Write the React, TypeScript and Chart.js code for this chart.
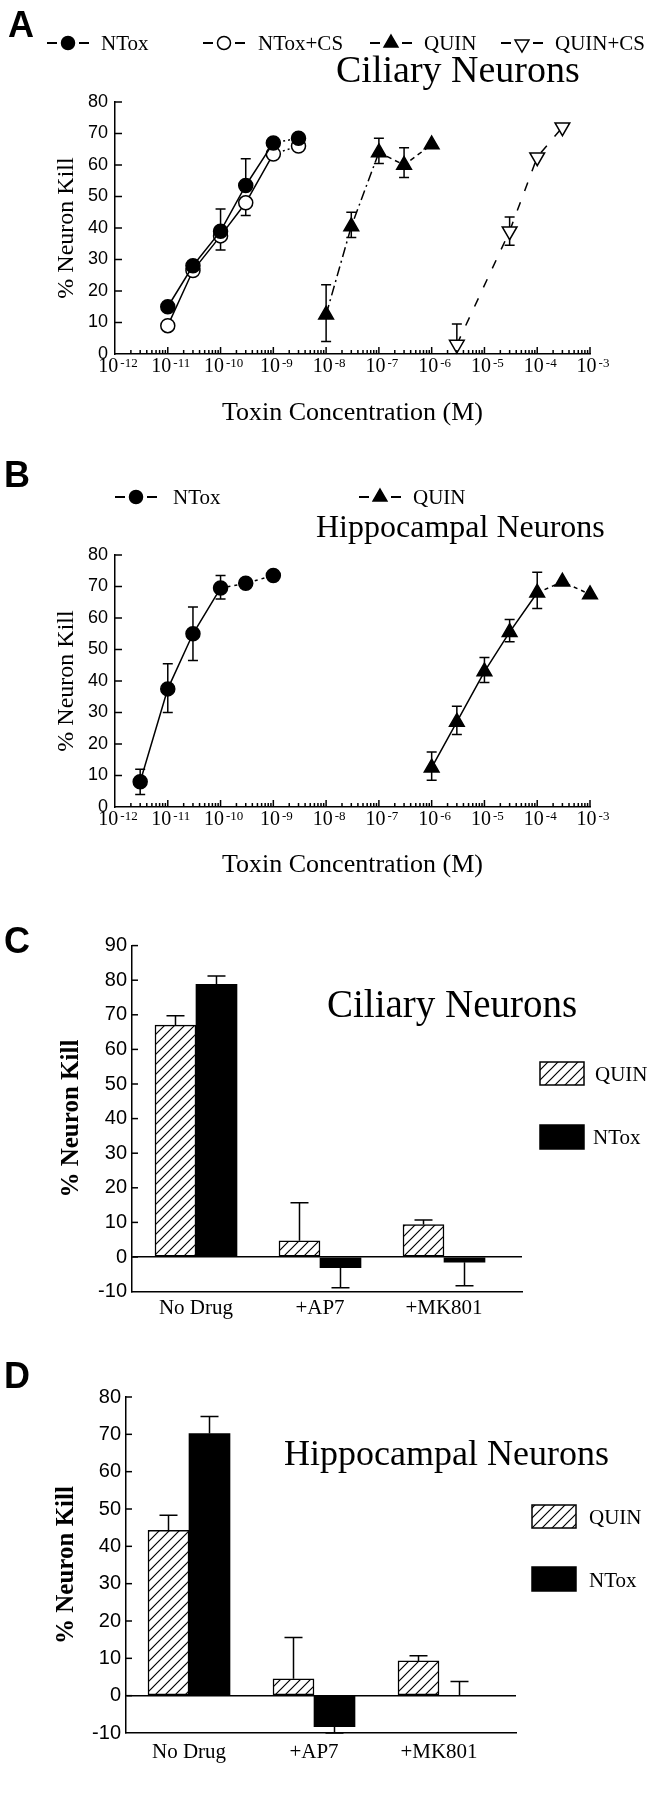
import React, { useEffect, useRef } from 'react';
import { Chart, registerables } from 'chart.js';

Chart.register(...registerables);

const SERIF = "'Liberation Serif', 'Times New Roman', Times, serif";
const SANS = "'Liberation Sans', Arial, Helvetica, sans-serif";
const BLACK = '#000000';
const WHITE = '#ffffff';

// ---------------- Panel A : Ciliary neurons (dose response) ----------------
const A_NTOX_X = [1e-11, 3e-11, 1e-10, 3e-10, 1e-9, 3e-9];
const A_NTOX_Y = [15, 28, 39, 53.5, 67, 68.5];
const A_NTOX_HI = [null, null, 46, 62, null, null];
const A_NTOX_LO = [null, null, null, null, null, null];

const A_NTOXCS_X = [1e-11, 3e-11, 1e-10, 3e-10, 1e-9, 3e-9];
const A_NTOXCS_Y = [9, 26.5, 37.5, 48, 63.5, 66];
const A_NTOXCS_HI = [null, null, null, null, null, null];
const A_NTOXCS_LO = [null, null, 33, 44, null, null];

const A_QUIN_X = [1e-8, 3e-8, 1e-7, 3e-7, 1e-6];
const A_QUIN_Y = [12.5, 40.5, 64, 60, 66.5];
const A_QUIN_HI = [22, 45, 68.5, 65.5, null];
const A_QUIN_LO = [4, 37, 60.5, 56, null];

const A_QUINCS_X = [3e-6, 3e-5, 1e-4, 3e-4];
const A_QUINCS_Y = [3, 39, 62.5, 72];
const A_QUINCS_HI = [9.5, 43.5, null, null];
const A_QUINCS_LO = [null, 34.5, null, null];

// ---------------- Panel B : Hippocampal neurons (dose response) ----------------
const B_NTOX_X = [3e-12, 1e-11, 3e-11, 1e-10, 3e-10, 1e-9];
const B_NTOX_Y = [8, 37.5, 55, 69.5, 71, 73.5];
const B_NTOX_HI = [12, 45.5, 63.5, 73.5, null, null];
const B_NTOX_LO = [4, 30, 46.5, 66, null, null];

const B_QUIN_X = [1e-6, 3e-6, 1e-5, 3e-5, 1e-4, 3e-4, 1e-3];
const B_QUIN_Y = [12.5, 27, 43, 55.5, 68, 71.5, 67.5];
const B_QUIN_HI = [17.5, 32, 47.5, 59.5, 74.5, null, null];
const B_QUIN_LO = [8.5, 23, 39.5, 52.5, 63, null, null];

// ---------------- Panels C / D : antagonists ----------------
const BAR_CATEGORIES = ['No Drug', '+AP7', '+MK801'];

const C_QUIN = [67, 4.7, 9.4];
const C_QUIN_ERR = [69.7, 15.7, 10.7];
const C_NTOX = [78.8, -3.1, -1.5];
const C_NTOX_ERR = [81.2, -8.9, -8.3];

const D_QUIN = [44.3, 4.5, 9.3];
const D_QUIN_ERR = [48.3, 15.6, 10.7];
const D_NTOX = [70.2, -8.3, 0];
const D_NTOX_ERR = [74.8, -10, 3.8];

// ---------------- ticks / labels ----------------
const X_EXPONENTS = [-12, -11, -10, -9, -8, -7, -6, -5, -4, -3];
const AB_Y_TICKS = [0, 10, 20, 30, 40, 50, 60, 70, 80];
const C_Y_TICKS = [-10, 0, 10, 20, 30, 40, 50, 60, 70, 80, 90];
const D_Y_TICKS = [-10, 0, 10, 20, 30, 40, 50, 60, 70, 80];
const Y_TITLE = '% Neuron Kill';
const X_TITLE = 'Toxin Concentration (M)';

type Marker = 'circle' | 'triangle' | 'invtriangle';
type Txt = { text: string; x: number; y: number; size: number; family: string; weight?: string; baseline?: CanvasTextBaseline };
type Sym = { cx: number; y: number; marker: Marker; filled: boolean };
type Box = { x: number; y: number; w: number; h: number; hatch: boolean };

function drawMarker(ctx: CanvasRenderingContext2D, kind: Marker, x: number, y: number, r: number, filled: boolean) {
  ctx.beginPath();
  if (kind === 'circle') {
    ctx.arc(x, y, r, 0, Math.PI * 2);
  } else {
    const rot = kind === 'invtriangle' ? Math.PI : 0;
    for (let k = 0; k < 3; k++) {
      const a = rot + (k * 2 * Math.PI) / 3;
      const px = x + Math.sin(a) * r;
      const py = y - Math.cos(a) * r;
      if (k === 0) ctx.moveTo(px, py);
      else ctx.lineTo(px, py);
    }
    ctx.closePath();
  }
  ctx.fillStyle = filled ? BLACK : WHITE;
  ctx.fill();
  ctx.lineWidth = 1.5;
  ctx.strokeStyle = BLACK;
  ctx.stroke();
}

function drawErrors(chart: any, cap: number) {
  const ctx: CanvasRenderingContext2D = chart.ctx;
  const ys = chart.scales.y;
  ctx.save();
  ctx.strokeStyle = BLACK;
  ctx.lineWidth = 1.5;
  ctx.setLineDash([]);
  chart.data.datasets.forEach((ds: any, i: number) => {
    const meta = chart.getDatasetMeta(i);
    const arrays = [ds.errHi, ds.errLo, ds.errEnd];
    meta.data.forEach((el: any, j: number) => {
      arrays.forEach((arr: any) => {
        const v = arr ? arr[j] : null;
        if (v === null || v === undefined) return;
        const yy = ys.getPixelForValue(v);
        ctx.beginPath();
        ctx.moveTo(el.x, el.y);
        ctx.lineTo(el.x, yy);
        ctx.moveTo(el.x - cap / 2, yy);
        ctx.lineTo(el.x + cap / 2, yy);
        ctx.stroke();
      });
    });
  });
  ctx.restore();
}

function makeDecor(cfg: {
  id: string;
  texts: Txt[];
  syms?: Sym[];
  boxes?: Box[];
  logAxis?: boolean;
  yTickLen: number;
  cap: number;
  bars?: boolean;
  hatch?: CanvasPattern | null;
}) {
  return {
    id: cfg.id,
    beforeDatasetsDraw(chart: any) {
      if (!cfg.bars) drawErrors(chart, cfg.cap);
    },
    afterDatasetsDraw(chart: any) {
      if (cfg.bars) drawErrors(chart, cfg.cap);
    },
    afterDraw(chart: any) {
      const ctx: CanvasRenderingContext2D = chart.ctx;
      const area = chart.chartArea;
      ctx.save();
      ctx.strokeStyle = BLACK;
      ctx.fillStyle = BLACK;
      ctx.lineWidth = 1.5;
      ctx.setLineDash([]);
      if (cfg.logAxis) {
        const xs = chart.scales.x;
        // inner minor / major ticks
        for (let e = -12; e < -3; e++) {
          for (let m = 2; m <= 10; m++) {
            const px = xs.getPixelForValue(m * Math.pow(10, e));
            const len = m === 10 ? 7 : 4;
            ctx.beginPath();
            ctx.moveTo(px, area.bottom);
            ctx.lineTo(px, area.bottom - len);
            ctx.stroke();
          }
        }
        // decade labels: "10" with raised exponent
        X_EXPONENTS.forEach((e) => {
          const px = xs.getPixelForValue(Math.pow(10, e));
          const base = '10';
          const sup = String(e);
          ctx.textBaseline = 'alphabetic';
          ctx.textAlign = 'left';
          ctx.font = `normal 20px ${SERIF}`;
          const wb = ctx.measureText(base).width;
          ctx.font = `normal 13px ${SERIF}`;
          const ws = ctx.measureText(sup).width;
          const total = wb + 2 + ws;
          const x0 = px - total / 2 + 3;
          const yb = area.bottom + 18;
          ctx.font = `normal 20px ${SERIF}`;
          ctx.fillText(base, x0, yb);
          ctx.font = `normal 13px ${SERIF}`;
          ctx.fillText(sup, x0 + wb + 2, yb - 5);
        });
      }
      // inner y ticks
      const ys = chart.scales.y;
      ys.ticks.forEach((t: any) => {
        const py = ys.getPixelForValue(t.value);
        if (Math.abs(py - area.bottom) < 1) return;
        ctx.beginPath();
        ctx.moveTo(area.left, py);
        ctx.lineTo(area.left + cfg.yTickLen, py);
        ctx.stroke();
      });
      // legend symbols: short dash, marker, short dash
      (cfg.syms || []).forEach((s) => {
        ctx.lineWidth = 1.8;
        ctx.beginPath();
        ctx.moveTo(s.cx - 21, s.y);
        ctx.lineTo(s.cx - 11, s.y);
        ctx.moveTo(s.cx + 11, s.y);
        ctx.lineTo(s.cx + 21, s.y);
        ctx.stroke();
        drawMarker(ctx, s.marker, s.cx, s.marker === 'invtriangle' ? s.y + 1 : s.y, s.marker === 'circle' ? 6.5 : 8, s.filled);
      });
      // legend boxes
      (cfg.boxes || []).forEach((b) => {
        ctx.fillStyle = b.hatch && cfg.hatch ? cfg.hatch : BLACK;
        ctx.fillRect(b.x, b.y, b.w, b.h);
        ctx.lineWidth = 1.5;
        ctx.strokeRect(b.x, b.y, b.w, b.h);
      });
      // texts
      cfg.texts.forEach((t) => {
        ctx.font = `${t.weight || 'normal'} ${t.size}px ${t.family}`;
        ctx.fillStyle = BLACK;
        ctx.textAlign = 'left';
        ctx.textBaseline = t.baseline || 'alphabetic';
        ctx.fillText(t.text, t.x, t.y);
      });
      ctx.restore();
    },
  };
}

function makeHatch(): CanvasPattern | null {
  const c = document.createElement('canvas');
  c.width = 10;
  c.height = 10;
  const g = c.getContext('2d');
  if (!g) return null;
  g.fillStyle = WHITE;
  g.fillRect(0, 0, 10, 10);
  g.strokeStyle = BLACK;
  g.lineWidth = 1.2;
  g.beginPath();
  g.moveTo(-1, 11);
  g.lineTo(11, -1);
  g.moveTo(-1, 1);
  g.lineTo(1, -1);
  g.moveTo(9, 11);
  g.lineTo(11, 9);
  g.stroke();
  return g.createPattern(c, 'repeat');
}

function lineSet(
  label: string, xs: number[], ys: number[], hi: (number | null)[], lo: (number | null)[],
  marker: Marker, filled: boolean, dash: number[], segFrom: number, segDash: number[],
) {
  return {
    label,
    data: xs.map((x, i) => ({ x, y: ys[i] })),
    errHi: hi,
    errLo: lo,
    clip: false,
    borderColor: BLACK,
    borderWidth: 1.5,
    borderDash: dash,
    pointStyle: marker === 'circle' ? 'circle' : 'triangle',
    pointRotation: marker === 'invtriangle' ? 180 : 0,
    pointRadius: marker === 'circle' ? 7 : 8.5,
    pointBackgroundColor: filled ? BLACK : WHITE,
    pointBorderColor: BLACK,
    pointBorderWidth: 1.5,
    fill: false,
    tension: 0,
    segment: {
      borderDash: (c: any) => (c.p0DataIndex >= segFrom ? segDash : dash),
    },
  };
}

function logX(height: number, titlePadBottom: number) {
  return {
    type: 'logarithmic',
    min: 1e-12,
    max: 1e-3,
    afterBuildTicks: (s: any) => {
      s.ticks = X_EXPONENTS.map((e) => ({ value: Math.pow(10, e) }));
    },
    afterFit: (s: any) => {
      s.height = height;
    },
    ticks: { display: false, autoSkip: false, maxRotation: 0, minRotation: 0 },
    grid: { display: false, drawTicks: false },
    border: { display: true, color: BLACK, width: 1.5 },
    title: {
      display: true, text: X_TITLE, color: BLACK,
      font: { family: SERIF, size: 26, lineHeight: 1 },
      padding: { top: 0, bottom: titlePadBottom },
    },
  };
}

function linY(ticks: number[], min: number, max: number, width: number, titlePadTop: number, fontSize: number, titleSize: number, bold: boolean, zeroLine: boolean, tickPad: number) {
  return {
    type: 'linear',
    min,
    max,
    afterBuildTicks: (s: any) => {
      s.ticks = ticks.map((v) => ({ value: v }));
    },
    afterFit: (s: any) => {
      s.width = width;
    },
    ticks: { padding: tickPad, color: BLACK, font: { family: SANS, size: fontSize } },
    grid: zeroLine
      ? { display: true, drawTicks: false, lineWidth: 1.5, color: (c: any) => (c.tick && c.tick.value === 0 ? BLACK : 'rgba(0,0,0,0)') }
      : { display: false, drawTicks: false },
    border: { display: true, color: BLACK, width: 1.5 },
    title: {
      display: true, text: Y_TITLE, color: BLACK,
      font: { family: SERIF, size: titleSize, weight: bold ? 'bold' : 'normal', lineHeight: 1 },
      padding: { top: titlePadTop, bottom: 0 },
    },
  };
}

function catX(min: number, max: number, height: number, pad: number) {
  return {
    type: 'linear',
    min,
    max,
    offset: false,
    afterBuildTicks: (s: any) => {
      s.ticks = BAR_CATEGORIES.map((_, i) => ({ value: i }));
    },
    afterFit: (s: any) => {
      s.height = height;
    },
    ticks: {
      autoSkip: false, maxRotation: 0, minRotation: 0, padding: pad, color: BLACK,
      font: { family: SERIF, size: 21 },
      callback: (v: any) => BAR_CATEGORIES[Number(v)] ?? '',
    },
    grid: { display: false, drawTicks: false, offset: false },
    border: { display: true, color: BLACK, width: 1.5 },
  };
}

const COMMON = {
  responsive: false,
  animation: false,
  events: [] as any[],
  devicePixelRatio: 1,
};
const NO_PLUGINS = { legend: { display: false }, tooltip: { enabled: false }, title: { display: false } };

function configA(): any {
  return {
    type: 'line',
    data: {
      datasets: [
        lineSet('NTox', A_NTOX_X, A_NTOX_Y, A_NTOX_HI, A_NTOX_LO, 'circle', true, [], 4, [2, 3]),
        lineSet('NTox+CS', A_NTOXCS_X, A_NTOXCS_Y, A_NTOXCS_HI, A_NTOXCS_LO, 'circle', false, [], 4, [2, 3]),
        lineSet('QUIN', A_QUIN_X, A_QUIN_Y, A_QUIN_HI, A_QUIN_LO, 'triangle', true, [10, 4, 2, 4], 2, [5, 4]),
        lineSet('QUIN+CS', A_QUINCS_X, A_QUINCS_Y, A_QUINCS_HI, A_QUINCS_LO, 'invtriangle', false, [9, 12], 9, [9, 12]),
      ],
    },
    options: {
      ...COMMON,
      layout: { padding: { left: 55, right: 65, top: 102, bottom: 6 } },
      plugins: NO_PLUGINS,
      scales: { x: logX(80, 8), y: linY(AB_Y_TICKS, 0, 80, 60, 0, 18, 24, false, false, 7) },
    },
    plugins: [
      makeDecor({
        id: 'decorA', logAxis: true, yTickLen: 7, cap: 10,
        texts: [
          { text: 'A', x: 8, y: 37, size: 36, family: SANS, weight: 'bold' },
          { text: 'NTox', x: 101, y: 44, size: 21, family: SERIF, baseline: 'middle' },
          { text: 'NTox+CS', x: 258, y: 44, size: 21, family: SERIF, baseline: 'middle' },
          { text: 'QUIN', x: 424, y: 44, size: 21, family: SERIF, baseline: 'middle' },
          { text: 'QUIN+CS', x: 555, y: 44, size: 21, family: SERIF, baseline: 'middle' },
          { text: 'Ciliary Neurons', x: 336, y: 82, size: 38, family: SERIF },
        ],
        syms: [
          { cx: 68, y: 43, marker: 'circle', filled: true },
          { cx: 224, y: 43, marker: 'circle', filled: false },
          { cx: 391, y: 43, marker: 'triangle', filled: true },
          { cx: 522, y: 43, marker: 'invtriangle', filled: false },
        ],
      }),
    ],
  };
}

function configB(): any {
  return {
    type: 'line',
    data: {
      datasets: [
        lineSet('NTox', B_NTOX_X, B_NTOX_Y, B_NTOX_HI, B_NTOX_LO, 'circle', true, [], 3, [3, 4]),
        lineSet('QUIN', B_QUIN_X, B_QUIN_Y, B_QUIN_HI, B_QUIN_LO, 'triangle', true, [], 4, [4, 4]),
      ],
    },
    options: {
      ...COMMON,
      layout: { padding: { left: 55, right: 65, top: 115, bottom: 1 } },
      plugins: NO_PLUGINS,
      scales: { x: logX(72, 1), y: linY(AB_Y_TICKS, 0, 80, 60, 0, 18, 24, false, false, 7) },
    },
    plugins: [
      makeDecor({
        id: 'decorB', logAxis: true, yTickLen: 7, cap: 10,
        texts: [
          { text: 'B', x: 4, y: 47, size: 36, family: SANS, weight: 'bold' },
          { text: 'NTox', x: 173, y: 58, size: 21, family: SERIF, baseline: 'middle' },
          { text: 'QUIN', x: 413, y: 58, size: 21, family: SERIF, baseline: 'middle' },
          { text: 'Hippocampal Neurons', x: 316, y: 97, size: 32, family: SERIF },
        ],
        syms: [
          { cx: 136, y: 57, marker: 'circle', filled: true },
          { cx: 380, y: 57, marker: 'triangle', filled: true },
        ],
      }),
    ],
  };
}

function barSets(quin: number[], quinErr: number[], ntox: number[], ntoxErr: number[], hatch: CanvasPattern | null) {
  return [
    {
      label: 'QUIN',
      data: BAR_CATEGORIES.map((_, i) => ({ x: i, y: quin[i] })),
      errEnd: quinErr,
      backgroundColor: hatch || WHITE,
      borderColor: BLACK,
      borderWidth: 1.5,
      borderSkipped: false,
      barThickness: 41,
    },
    {
      label: 'NTox',
      data: BAR_CATEGORIES.map((_, i) => ({ x: i, y: ntox[i] })),
      errEnd: ntoxErr,
      backgroundColor: BLACK,
      borderColor: BLACK,
      borderWidth: 0,
      barThickness: 41,
    },
  ];
}

function configC(hatch: CanvasPattern | null): any {
  return {
    type: 'bar',
    data: { datasets: barSets(C_QUIN, C_QUIN_ERR, C_NTOX, C_NTOX_ERR, hatch) },
    options: {
      ...COMMON,
      layout: { padding: { left: 52, right: 133, top: 65.6, bottom: 8.4 } },
      plugins: NO_PLUGINS,
      scales: { x: catX(-0.516, 2.629, 30, 4), y: linY(C_Y_TICKS, -10, 90, 80, 7.5, 20, 25, true, true, 5) },
    },
    plugins: [
      makeDecor({
        id: 'decorC', yTickLen: 6, cap: 18, bars: true, hatch,
        texts: [
          { text: 'C', x: 4, y: 73, size: 36, family: SANS, weight: 'bold' },
          { text: 'Ciliary Neurons', x: 327, y: 137, size: 39, family: SERIF },
          { text: 'QUIN', x: 595, y: 195, size: 21, family: SERIF, baseline: 'middle' },
          { text: 'NTox', x: 593, y: 258, size: 21, family: SERIF, baseline: 'middle' },
        ],
        boxes: [
          { x: 540, y: 182, w: 44, h: 23, hatch: true },
          { x: 540, y: 245, w: 44, h: 24, hatch: false },
        ],
      }),
    ],
  };
}

function configD(hatch: CanvasPattern | null): any {
  return {
    type: 'bar',
    data: { datasets: barSets(D_QUIN, D_QUIN_ERR, D_NTOX, D_NTOX_ERR, hatch) },
    options: {
      ...COMMON,
      layout: { padding: { left: 46, right: 139, top: 67, bottom: 27 } },
      plugins: NO_PLUGINS,
      scales: { x: catX(-0.504, 2.616, 40, 6.5), y: linY(D_Y_TICKS, -10, 80, 80, 8.5, 20, 25, true, true, 5) },
    },
    plugins: [
      makeDecor({
        id: 'decorD', yTickLen: 6, cap: 18, bars: true, hatch,
        texts: [
          { text: 'D', x: 4, y: 58, size: 36, family: SANS, weight: 'bold' },
          { text: 'Hippocampal Neurons', x: 284, y: 135, size: 36, family: SERIF },
          { text: 'QUIN', x: 589, y: 188, size: 21, family: SERIF, baseline: 'middle' },
          { text: 'NTox', x: 589, y: 251, size: 21, family: SERIF, baseline: 'middle' },
        ],
        boxes: [
          { x: 532, y: 175, w: 44, h: 23, hatch: true },
          { x: 532, y: 237, w: 44, h: 24, hatch: false },
        ],
      }),
    ],
  };
}

const PANELS = [
  { top: 0, height: 440 },
  { top: 440, height: 440 },
  { top: 880, height: 450 },
  { top: 1330, height: 470 },
];

export default function App() {
  const refA = useRef<HTMLCanvasElement>(null);
  const refB = useRef<HTMLCanvasElement>(null);
  const refC = useRef<HTMLCanvasElement>(null);
  const refD = useRef<HTMLCanvasElement>(null);

  useEffect(() => {
    const hatch = makeHatch();
    const charts: Chart[] = [];
    if (refA.current) charts.push(new Chart(refA.current, configA()));
    if (refB.current) charts.push(new Chart(refB.current, configB()));
    if (refC.current) charts.push(new Chart(refC.current, configC(hatch)));
    if (refD.current) charts.push(new Chart(refD.current, configD(hatch)));
    return () => {
      charts.forEach((c) => c.destroy());
    };
  }, []);

  const refs = [refA, refB, refC, refD];
  return (
    <div style={{ position: 'absolute', left: 0, top: 0, width: 655, height: 1800, background: WHITE }}>
      {PANELS.map((p, i) => (
        <canvas
          key={i}
          ref={refs[i]}
          width={655}
          height={p.height}
          style={{ position: 'absolute', left: 0, top: p.top, width: 655, height: p.height, display: 'block' }}
        />
      ))}
    </div>
  );
}
